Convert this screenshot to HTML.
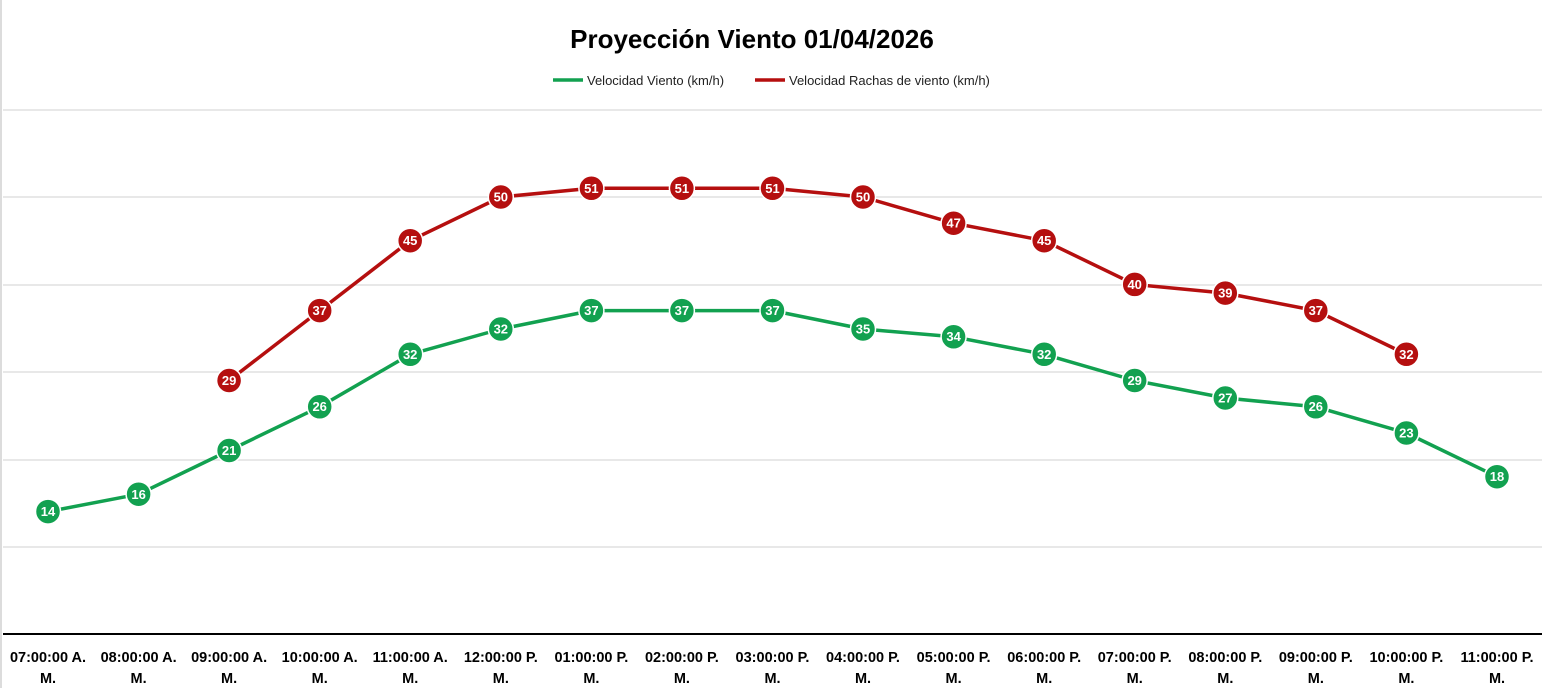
<!DOCTYPE html>
<html><head><meta charset="utf-8"><style>
body{margin:0;background:#fff;width:1542px;height:688px;overflow:hidden;font-family:"Liberation Sans",Calibri,sans-serif}
</style></head><body>
<svg width="1542" height="688" xmlns="http://www.w3.org/2000/svg" font-family="Liberation Sans, sans-serif">
<line x1="1" y1="0" x2="1" y2="688" stroke="#d0d0d0" stroke-width="1.5"/>
<text x="752" y="48" text-anchor="middle" font-size="26" font-weight="bold" fill="#000">Proyección Viento 01/04/2026</text>
<line x1="553" y1="80" x2="583" y2="80" stroke="#12a150" stroke-width="3.5"/>
<text x="587" y="85" font-size="13" fill="#222">Velocidad Viento (km/h)</text>
<line x1="755" y1="80" x2="785" y2="80" stroke="#b50f0f" stroke-width="3.5"/>
<text x="789" y="85" font-size="13" fill="#222">Velocidad Rachas de viento (km/h)</text>
<g stroke="#d9d9d9" stroke-width="1.3">
<line x1="3" y1="110" x2="1542" y2="110"/><line x1="3" y1="197" x2="1542" y2="197"/>
<line x1="3" y1="285" x2="1542" y2="285"/><line x1="3" y1="372" x2="1542" y2="372"/>
<line x1="3" y1="460" x2="1542" y2="460"/><line x1="3" y1="547" x2="1542" y2="547"/>
</g>
<line x1="3" y1="634" x2="1542" y2="634" stroke="#000" stroke-width="2"/>
<polyline fill="none" stroke="#12a150" stroke-width="3.5" stroke-linejoin="round" points="48,511.6 138.6,494.2 229.1,450.5 319.7,406.8 410.2,354.3 500.8,329 591.4,310.6 681.9,310.6 772.5,310.6 863,329 953.6,336.8 1044.2,354.3 1134.7,380.5 1225.3,398 1315.8,406.8 1406.4,433 1497,476.7"/>
<polyline fill="none" stroke="#b50f0f" stroke-width="3.5" stroke-linejoin="round" points="229.1,380.5 319.7,310.6 410.2,240.7 500.8,197 591.4,188.3 681.9,188.3 772.5,188.3 863,197 953.6,223.2 1044.2,240.7 1134.7,284.4 1225.3,293.1 1315.8,310.6 1406.4,354.3"/>
<g fill="#12a150" stroke="#fff" stroke-width="1.5">
<circle cx="48" cy="511.6" r="12.5"/><circle cx="138.6" cy="494.2" r="12.5"/><circle cx="229.1" cy="450.5" r="12.5"/><circle cx="319.7" cy="406.8" r="12.5"/><circle cx="410.2" cy="354.3" r="12.5"/><circle cx="500.8" cy="329" r="12.5"/><circle cx="591.4" cy="310.6" r="12.5"/><circle cx="681.9" cy="310.6" r="12.5"/><circle cx="772.5" cy="310.6" r="12.5"/><circle cx="863" cy="329" r="12.5"/><circle cx="953.6" cy="336.8" r="12.5"/><circle cx="1044.2" cy="354.3" r="12.5"/><circle cx="1134.7" cy="380.5" r="12.5"/><circle cx="1225.3" cy="398" r="12.5"/><circle cx="1315.8" cy="406.8" r="12.5"/><circle cx="1406.4" cy="433" r="12.5"/><circle cx="1497" cy="476.7" r="12.5"/>
</g>
<g fill="#b50f0f" stroke="#fff" stroke-width="1.5">
<circle cx="229.1" cy="380.5" r="12.5"/><circle cx="319.7" cy="310.6" r="12.5"/><circle cx="410.2" cy="240.7" r="12.5"/><circle cx="500.8" cy="197" r="12.5"/><circle cx="591.4" cy="188.3" r="12.5"/><circle cx="681.9" cy="188.3" r="12.5"/><circle cx="772.5" cy="188.3" r="12.5"/><circle cx="863" cy="197" r="12.5"/><circle cx="953.6" cy="223.2" r="12.5"/><circle cx="1044.2" cy="240.7" r="12.5"/><circle cx="1134.7" cy="284.4" r="12.5"/><circle cx="1225.3" cy="293.1" r="12.5"/><circle cx="1315.8" cy="310.6" r="12.5"/><circle cx="1406.4" cy="354.3" r="12.5"/>
</g>
<g fill="#fff" font-size="13" font-weight="bold" text-anchor="middle">
<text x="48" y="516">14</text><text x="138.6" y="499">16</text><text x="229.1" y="455">21</text><text x="319.7" y="411">26</text><text x="410.2" y="359">32</text><text x="500.8" y="333.5">32</text><text x="591.4" y="315">37</text><text x="681.9" y="315">37</text><text x="772.5" y="315">37</text><text x="863" y="333.5">35</text><text x="953.6" y="341">34</text><text x="1044.2" y="359">32</text><text x="1134.7" y="385">29</text><text x="1225.3" y="402.5">27</text><text x="1315.8" y="411">26</text><text x="1406.4" y="437.5">23</text><text x="1497" y="481">18</text>
<text x="229.1" y="385">29</text><text x="319.7" y="315">37</text><text x="410.2" y="245">45</text><text x="500.8" y="201.5">50</text><text x="591.4" y="193">51</text><text x="681.9" y="193">51</text><text x="772.5" y="193">51</text><text x="863" y="201.5">50</text><text x="953.6" y="227.5">47</text><text x="1044.2" y="245">45</text><text x="1134.7" y="289">40</text><text x="1225.3" y="297.5">39</text><text x="1315.8" y="315">37</text><text x="1406.4" y="359">32</text>
</g>
<g fill="#000" font-size="14.5" font-weight="bold" text-anchor="middle">
<text x="48" y="662">07:00:00 A.</text><text x="48" y="683">M.</text>
<text x="138.6" y="662">08:00:00 A.</text><text x="138.6" y="683">M.</text>
<text x="229.1" y="662">09:00:00 A.</text><text x="229.1" y="683">M.</text>
<text x="319.7" y="662">10:00:00 A.</text><text x="319.7" y="683">M.</text>
<text x="410.2" y="662">11:00:00 A.</text><text x="410.2" y="683">M.</text>
<text x="500.8" y="662">12:00:00 P.</text><text x="500.8" y="683">M.</text>
<text x="591.4" y="662">01:00:00 P.</text><text x="591.4" y="683">M.</text>
<text x="681.9" y="662">02:00:00 P.</text><text x="681.9" y="683">M.</text>
<text x="772.5" y="662">03:00:00 P.</text><text x="772.5" y="683">M.</text>
<text x="863" y="662">04:00:00 P.</text><text x="863" y="683">M.</text>
<text x="953.6" y="662">05:00:00 P.</text><text x="953.6" y="683">M.</text>
<text x="1044.2" y="662">06:00:00 P.</text><text x="1044.2" y="683">M.</text>
<text x="1134.7" y="662">07:00:00 P.</text><text x="1134.7" y="683">M.</text>
<text x="1225.3" y="662">08:00:00 P.</text><text x="1225.3" y="683">M.</text>
<text x="1315.8" y="662">09:00:00 P.</text><text x="1315.8" y="683">M.</text>
<text x="1406.4" y="662">10:00:00 P.</text><text x="1406.4" y="683">M.</text>
<text x="1497" y="662">11:00:00 P.</text><text x="1497" y="683">M.</text>
</g>
</svg>
</body></html>
